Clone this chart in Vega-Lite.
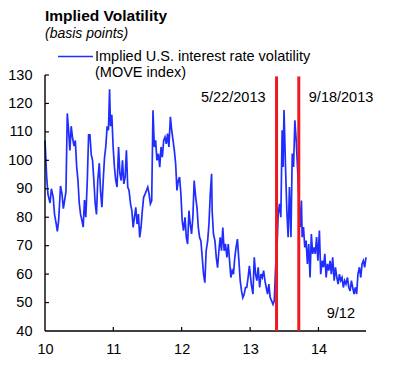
{
  "$schema": "https://vega.github.io/schema/vega-lite/v6.json",
  "width": 321,
  "height": 256,
  "autosize": {"type": "none"},
  "padding": {"left": 45, "top": 75, "right": 28, "bottom": 34},
  "config": {
    "font": "Liberation Sans",
    "view": {"stroke": null},
    "axis": {"grid": false, "domain": false, "ticks": false, "labelFont": "Liberation Sans", "labelFontSize": 14.5, "labelColor": "black", "labelOverlap": false, "title": null},
    "axisX": {"values": [1262304000000, 1293840000000, 1325376000000, 1356998400000, 1388534400000], "format": "%y", "labelAlign": "center", "labelBaseline": "top", "labelFlush": false, "labelPadding": 11, "title": null},
    "axisY": {"values": [40, 50, 60, 70, 80, 90, 100, 110, 120, 130], "labelPadding": 13, "title": null}
  },
  "title": {
    "text": "Implied Volatility",
    "subtitle": "(basis points)",
    "anchor": "start",
    "frame": "group",
    "font": "Liberation Sans",
    "fontSize": 15.5,
    "fontWeight": "bold",
    "color": "black",
    "subtitleFont": "Liberation Sans",
    "subtitleFontSize": 14,
    "subtitleFontStyle": "italic",
    "subtitleColor": "black",
    "subtitlePadding": 3,
    "offset": -3
  },
  "datasets": {
    "move": [
      {"date": "2010-01-01", "value": 107}, {"date": "2010-01-10", "value": 94}, {"date": "2010-01-17", "value": 88}, {"date": "2010-01-28", "value": 85},
      {"date": "2010-02-04", "value": 90}, {"date": "2010-02-14", "value": 87}, {"date": "2010-02-21", "value": 81}, {"date": "2010-03-01", "value": 78},
      {"date": "2010-03-08", "value": 75}, {"date": "2010-03-15", "value": 79}, {"date": "2010-03-25", "value": 91}, {"date": "2010-04-02", "value": 88},
      {"date": "2010-04-09", "value": 83}, {"date": "2010-04-16", "value": 86}, {"date": "2010-04-23", "value": 89}, {"date": "2010-04-30", "value": 116.5},
      {"date": "2010-05-07", "value": 110.6}, {"date": "2010-05-14", "value": 103.5}, {"date": "2010-05-21", "value": 112}, {"date": "2010-05-28", "value": 108},
      {"date": "2010-06-05", "value": 105}, {"date": "2010-06-12", "value": 107}, {"date": "2010-06-19", "value": 98}, {"date": "2010-06-26", "value": 93},
      {"date": "2010-07-03", "value": 85}, {"date": "2010-07-10", "value": 81}, {"date": "2010-07-17", "value": 79}, {"date": "2010-07-24", "value": 76.5},
      {"date": "2010-07-31", "value": 86}, {"date": "2010-08-07", "value": 80}, {"date": "2010-08-15", "value": 93}, {"date": "2010-08-22", "value": 109},
      {"date": "2010-08-29", "value": 109}, {"date": "2010-09-05", "value": 102}, {"date": "2010-09-12", "value": 100}, {"date": "2010-09-19", "value": 93},
      {"date": "2010-09-26", "value": 85}, {"date": "2010-10-03", "value": 81}, {"date": "2010-10-10", "value": 93}, {"date": "2010-10-18", "value": 99},
      {"date": "2010-10-25", "value": 89}, {"date": "2010-11-01", "value": 83.5}, {"date": "2010-11-08", "value": 93}, {"date": "2010-11-15", "value": 101},
      {"date": "2010-11-22", "value": 105}, {"date": "2010-11-29", "value": 112}, {"date": "2010-12-06", "value": 110.6}, {"date": "2010-12-12", "value": 125},
      {"date": "2010-12-17", "value": 112}, {"date": "2010-12-24", "value": 116}, {"date": "2010-12-31", "value": 104.7}, {"date": "2011-01-07", "value": 97.6},
      {"date": "2011-01-14", "value": 92.9}, {"date": "2011-01-21", "value": 90.6}, {"date": "2011-01-29", "value": 104.7}, {"date": "2011-02-05", "value": 95.3},
      {"date": "2011-02-12", "value": 92.9}, {"date": "2011-02-19", "value": 100}, {"date": "2011-02-26", "value": 91.7}, {"date": "2011-03-05", "value": 94.1},
      {"date": "2011-03-12", "value": 103.5}, {"date": "2011-03-19", "value": 90.6}, {"date": "2011-03-26", "value": 89.4}, {"date": "2011-04-03", "value": 84.7},
      {"date": "2011-04-10", "value": 82.3}, {"date": "2011-04-17", "value": 76.4}, {"date": "2011-04-24", "value": 80}, {"date": "2011-05-01", "value": 83.5},
      {"date": "2011-05-08", "value": 77.6}, {"date": "2011-05-15", "value": 81.1}, {"date": "2011-05-22", "value": 72.9}, {"date": "2011-05-29", "value": 76.4},
      {"date": "2011-06-05", "value": 82.3}, {"date": "2011-06-12", "value": 87}, {"date": "2011-06-20", "value": 88.2}, {"date": "2011-06-27", "value": 89.4},
      {"date": "2011-07-04", "value": 90.6}, {"date": "2011-07-11", "value": 88.2}, {"date": "2011-07-18", "value": 84.7}, {"date": "2011-07-25", "value": 85.8},
      {"date": "2011-08-01", "value": 117.6}, {"date": "2011-08-08", "value": 104.7}, {"date": "2011-08-15", "value": 107}, {"date": "2011-08-22", "value": 100},
      {"date": "2011-08-30", "value": 102.3}, {"date": "2011-09-06", "value": 97.6}, {"date": "2011-09-13", "value": 104.7}, {"date": "2011-09-20", "value": 101.1},
      {"date": "2011-09-27", "value": 107}, {"date": "2011-10-04", "value": 108.2}, {"date": "2011-10-11", "value": 105.8}, {"date": "2011-10-18", "value": 109.4},
      {"date": "2011-10-25", "value": 104.7}, {"date": "2011-11-02", "value": 115.3}, {"date": "2011-11-09", "value": 110.5}, {"date": "2011-11-16", "value": 107},
      {"date": "2011-11-23", "value": 103.5}, {"date": "2011-11-30", "value": 98.8}, {"date": "2011-12-07", "value": 89.4}, {"date": "2011-12-14", "value": 92.9},
      {"date": "2011-12-21", "value": 94.1}, {"date": "2011-12-28", "value": 88.2}, {"date": "2012-01-04", "value": 78.8}, {"date": "2012-01-11", "value": 75.3},
      {"date": "2012-01-19", "value": 80}, {"date": "2012-01-26", "value": 72.9}, {"date": "2012-02-02", "value": 70.6}, {"date": "2012-02-09", "value": 82.3},
      {"date": "2012-02-16", "value": 77.6}, {"date": "2012-02-23", "value": 74.1}, {"date": "2012-03-01", "value": 80}, {"date": "2012-03-08", "value": 92.9},
      {"date": "2012-03-16", "value": 87}, {"date": "2012-03-23", "value": 83.5}, {"date": "2012-03-30", "value": 76.4}, {"date": "2012-04-06", "value": 72.9},
      {"date": "2012-04-13", "value": 71.7}, {"date": "2012-04-20", "value": 65.9}, {"date": "2012-04-27", "value": 60}, {"date": "2012-05-04", "value": 57},
      {"date": "2012-05-11", "value": 68.2}, {"date": "2012-05-19", "value": 71.7}, {"date": "2012-05-26", "value": 77.6}, {"date": "2012-06-02", "value": 88.2},
      {"date": "2012-06-09", "value": 95.3}, {"date": "2012-06-12", "value": 82.3}, {"date": "2012-06-19", "value": 74.1}, {"date": "2012-06-27", "value": 71.7},
      {"date": "2012-07-04", "value": 65.9}, {"date": "2012-07-11", "value": 62.3}, {"date": "2012-07-18", "value": 68.2}, {"date": "2012-07-25", "value": 72.9},
      {"date": "2012-08-01", "value": 68.2}, {"date": "2012-08-08", "value": 76.4}, {"date": "2012-08-15", "value": 68.2}, {"date": "2012-08-22", "value": 70.6},
      {"date": "2012-08-30", "value": 65.9}, {"date": "2012-09-06", "value": 70.6}, {"date": "2012-09-13", "value": 64.7}, {"date": "2012-09-20", "value": 58.8},
      {"date": "2012-09-27", "value": 61.2}, {"date": "2012-10-04", "value": 60}, {"date": "2012-10-11", "value": 65.9}, {"date": "2012-10-18", "value": 69.4},
      {"date": "2012-10-25", "value": 72.3}, {"date": "2012-11-02", "value": 64.7}, {"date": "2012-11-09", "value": 57.6}, {"date": "2012-11-16", "value": 54.1},
      {"date": "2012-11-23", "value": 51.7}, {"date": "2012-11-30", "value": 52.9}, {"date": "2012-12-07", "value": 55.3}, {"date": "2012-12-14", "value": 55.3},
      {"date": "2012-12-21", "value": 58.8}, {"date": "2012-12-28", "value": 62.9}, {"date": "2013-01-07", "value": 56.5}, {"date": "2013-01-16", "value": 53},
      {"date": "2013-01-23", "value": 65.9}, {"date": "2013-01-30", "value": 60}, {"date": "2013-02-06", "value": 57.7}, {"date": "2013-02-13", "value": 62.4},
      {"date": "2013-02-21", "value": 55.3}, {"date": "2013-02-28", "value": 60}, {"date": "2013-03-07", "value": 58.8}, {"date": "2013-03-14", "value": 61.2},
      {"date": "2013-03-21", "value": 57.7}, {"date": "2013-03-28", "value": 55.3}, {"date": "2013-04-04", "value": 53}, {"date": "2013-04-11", "value": 56.5},
      {"date": "2013-04-18", "value": 51.8}, {"date": "2013-04-26", "value": 50.6}, {"date": "2013-05-03", "value": 49.4}, {"date": "2013-05-10", "value": 50.6},
      {"date": "2013-05-17", "value": 62.4}, {"date": "2013-05-24", "value": 68.3}, {"date": "2013-05-31", "value": 81.2}, {"date": "2013-06-07", "value": 84.7},
      {"date": "2013-06-14", "value": 80}, {"date": "2013-06-21", "value": 110.6}, {"date": "2013-06-26", "value": 97.7}, {"date": "2013-07-01", "value": 117.7},
      {"date": "2013-07-09", "value": 97.7}, {"date": "2013-07-16", "value": 82.4}, {"date": "2013-07-23", "value": 73}, {"date": "2013-07-30", "value": 90.6},
      {"date": "2013-08-07", "value": 73}, {"date": "2013-08-14", "value": 102.4}, {"date": "2013-08-21", "value": 97.7}, {"date": "2013-08-28", "value": 114.1},
      {"date": "2013-09-04", "value": 107.1}, {"date": "2013-09-11", "value": 97.7}, {"date": "2013-09-18", "value": 87.1}, {"date": "2013-09-25", "value": 76.5},
      {"date": "2013-10-02", "value": 85.9}, {"date": "2013-10-06", "value": 73}, {"date": "2013-10-13", "value": 76.5}, {"date": "2013-10-20", "value": 69.4},
      {"date": "2013-10-27", "value": 71.8}, {"date": "2013-11-03", "value": 63.6}, {"date": "2013-11-10", "value": 70.6}, {"date": "2013-11-17", "value": 58.8},
      {"date": "2013-11-24", "value": 74.1}, {"date": "2013-12-01", "value": 67.1}, {"date": "2013-12-08", "value": 69.4}, {"date": "2013-12-15", "value": 67.1},
      {"date": "2013-12-22", "value": 73}, {"date": "2013-12-29", "value": 64.7}, {"date": "2014-01-06", "value": 75.3}, {"date": "2014-01-13", "value": 60},
      {"date": "2014-01-21", "value": 64.7}, {"date": "2014-01-28", "value": 62.4}, {"date": "2014-02-04", "value": 67.1}, {"date": "2014-02-11", "value": 58.8},
      {"date": "2014-02-18", "value": 63.6}, {"date": "2014-02-25", "value": 61.2}, {"date": "2014-03-04", "value": 64.7}, {"date": "2014-03-11", "value": 60},
      {"date": "2014-03-18", "value": 65.9}, {"date": "2014-03-26", "value": 57.7}, {"date": "2014-04-02", "value": 62.4}, {"date": "2014-04-09", "value": 58.8},
      {"date": "2014-04-16", "value": 56.5}, {"date": "2014-04-23", "value": 60}, {"date": "2014-04-30", "value": 57.7}, {"date": "2014-05-07", "value": 58.8},
      {"date": "2014-05-14", "value": 55.3}, {"date": "2014-05-21", "value": 57.7}, {"date": "2014-05-28", "value": 56.5}, {"date": "2014-06-05", "value": 58.8},
      {"date": "2014-06-12", "value": 55.3}, {"date": "2014-06-19", "value": 54.1}, {"date": "2014-06-26", "value": 57.7}, {"date": "2014-07-03", "value": 55.3},
      {"date": "2014-07-10", "value": 53}, {"date": "2014-07-17", "value": 55.3}, {"date": "2014-07-24", "value": 53}, {"date": "2014-07-31", "value": 60},
      {"date": "2014-08-08", "value": 62.4}, {"date": "2014-08-15", "value": 58.8}, {"date": "2014-08-22", "value": 63.6}, {"date": "2014-08-29", "value": 64.7},
      {"date": "2014-09-05", "value": 62.4}, {"date": "2014-09-12", "value": 65.9}
    ],
    "events": [{"date": "2013-05-22"}, {"date": "2013-09-18"}],
    "yTicks": [{"value": 50}, {"value": 60}, {"value": 70}, {"value": 80}, {"value": 90}, {"value": 100}, {"value": 110}, {"value": 120}, {"value": 130}],
    "xTicks": [{"date": "2011-01-01"}, {"date": "2012-01-01"}, {"date": "2013-01-01"}, {"date": "2014-01-01"}],
    "frame": [{"axis": "frame"}],
    "labelsLeft": [{"date": "2013-05-22", "value": 120.5, "label": "5/22/2013"}, {"date": "2014-09-12", "value": 44.7, "label": "9/12"}],
    "labelsRight": [{"date": "2013-09-18", "value": 120.5, "label": "9/18/2013"}]
  },
  "layer": [
    {
      "data": {"name": "move"},
      "mark": {"type": "line", "strokeWidth": 1.7, "clip": false},
      "encoding": {
        "x": {"field": "date", "type": "temporal", "scale": {"type": "utc", "domain": [1262304000000, 1410480000000]}},
        "y": {"field": "value", "type": "quantitative", "scale": {"domain": [40, 130], "nice": false, "zero": false}},
        "color": {
          "datum": "Implied U.S. interest rate volatility",
          "scale": {"range": ["#1f2eff"]},
          "legend": {
            "orient": "none", "legendX": 12, "legendY": -37, "title": null, "padding": 0,
            "symbolType": "stroke", "symbolSize": 1225, "symbolStrokeWidth": 1.5,
            "labelFont": "Liberation Sans", "labelFontSize": 14.5, "labelColor": "black", "labelLimit": 400, "labelOffset": 1,
            "labelExpr": "['Implied U.S. interest rate volatility', '(MOVE index)']", "labelBaseline": "middle", "labelLineHeight": 17
          }
        }
      }
    },
    {
      "data": {"name": "frame"},
      "mark": {"type": "rule", "color": "black", "strokeWidth": 1.4},
      "encoding": {"x": {"datum": 1262304000000, "type": "temporal"}, "y": {"datum": 40, "type": "quantitative"}, "y2": {"datum": 130}}
    },
    {
      "data": {"name": "frame"},
      "mark": {"type": "rule", "color": "black", "strokeWidth": 1.4},
      "encoding": {"x": {"datum": 1262304000000, "type": "temporal"}, "x2": {"datum": 1410480000000}, "y": {"datum": 40, "type": "quantitative"}}
    },
    {
      "data": {"name": "yTicks"},
      "mark": {"type": "rule", "color": "black", "strokeWidth": 1.2},
      "encoding": {"x": {"datum": 1262304000000, "type": "temporal"}, "x2": {"datum": 1264118400000}, "y": {"field": "value", "type": "quantitative"}}
    },
    {
      "data": {"name": "xTicks"},
      "mark": {"type": "rule", "color": "black", "strokeWidth": 1.2},
      "encoding": {"x": {"field": "date", "type": "temporal"}, "y": {"datum": 40, "type": "quantitative"}, "y2": {"datum": 41.4}}
    },
    {
      "data": {"name": "events"},
      "mark": {"type": "rule", "color": "#f01a1e", "strokeWidth": 3},
      "encoding": {
        "x": {"field": "date", "type": "temporal"},
        "y": {"datum": 40, "type": "quantitative"},
        "y2": {"datum": 129.5}
      }
    },
    {
      "data": {"name": "labelsLeft"},
      "mark": {"type": "text", "align": "right", "baseline": "alphabetic", "dx": -11, "fontSize": 14.5, "color": "black"},
      "encoding": {"x": {"field": "date", "type": "temporal"}, "y": {"field": "value", "type": "quantitative"}, "text": {"field": "label"}}
    },
    {
      "data": {"name": "labelsRight"},
      "mark": {"type": "text", "align": "left", "baseline": "alphabetic", "dx": 10, "fontSize": 14.5, "color": "black"},
      "encoding": {"x": {"field": "date", "type": "temporal"}, "y": {"field": "value", "type": "quantitative"}, "text": {"field": "label"}}
    }
  ]
}
